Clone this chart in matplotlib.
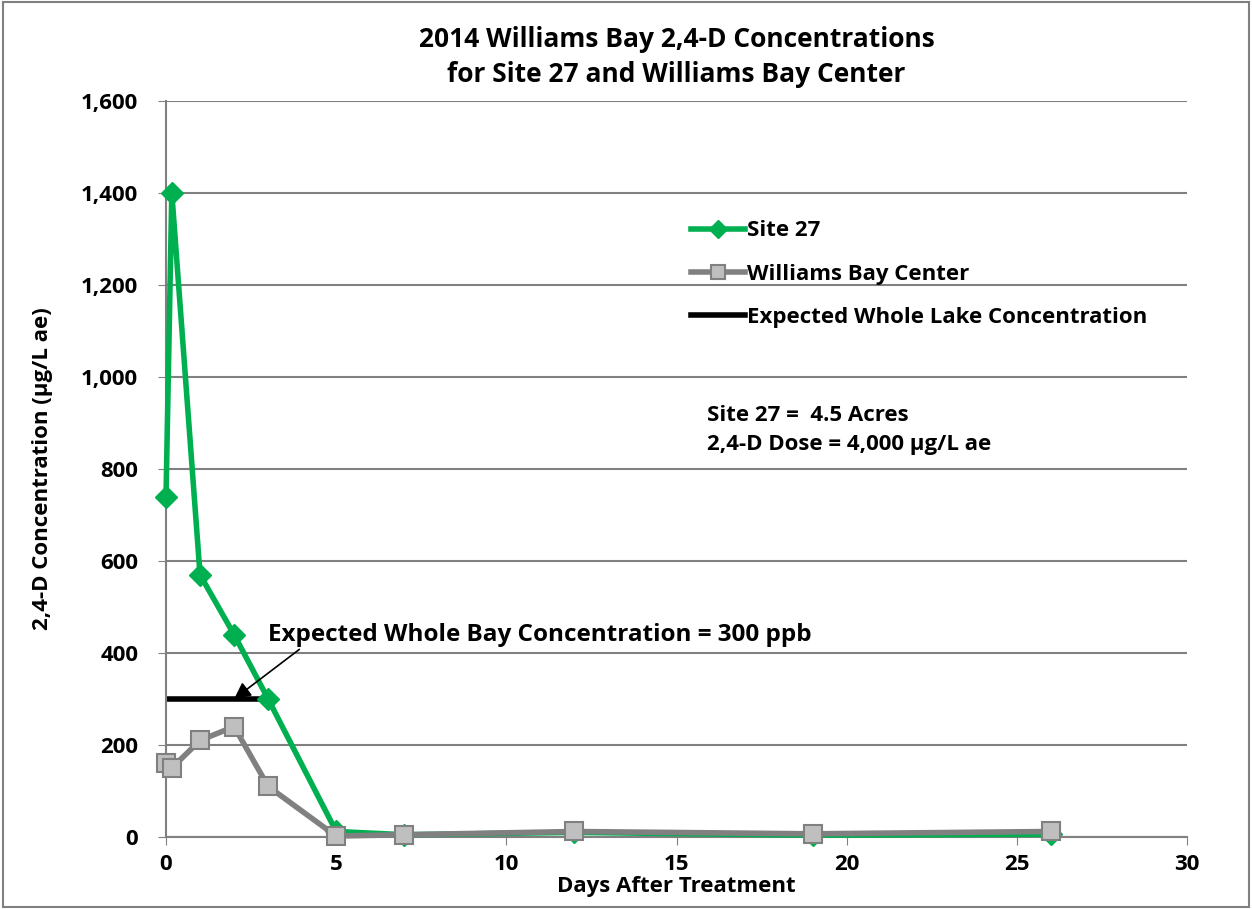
import matplotlib.pyplot as plt

plt.rcParams['font.family'] = ['Open Sans', 'DejaVu Sans']
plt.rcParams['font.weight'] = 'bold'

# data
site27_days = [0, 0.17, 1, 2, 3, 5, 7, 12, 19, 26]
site27_conc = [740, 1400, 570, 440, 300, 12, 5, 10, 4, 6]
center_days = [0, 0.17, 1, 2, 3, 5, 7, 12, 19, 26]
center_conc = [160, 150, 210, 240, 110, 2, 5, 12, 7, 12]
expected_days = [0, 3]
expected_conc = [300, 300]

fig = plt.figure(figsize=(12.52, 9.09), dpi=100)
ax = fig.add_axes([0.1326, 0.0792, 0.8155, 0.8097])

ax.plot(site27_days, site27_conc, color='#00B050', lw=4, marker='D', ms=11,
        mfc='#00B050', mec='#00B050', label='Site 27', zorder=3, clip_on=False)
ax.plot(center_days, center_conc, color='#808080', lw=4, marker='s', ms=13,
        mfc='#BFBFBF', mec='#808080', mew=1.5, label='Williams Bay Center', zorder=4,
        clip_on=False)
ax.plot(expected_days, expected_conc, color='black', lw=4,
        label='Expected Whole Lake Concentration', zorder=2)

ax.set_xlim(0, 30)
ax.set_ylim(0, 1600)
ax.set_xticks(range(0, 31, 5))
ax.set_yticks(range(0, 1601, 200))
ax.set_yticklabels(['{:,}'.format(v) for v in range(0, 1601, 200)])
ax.tick_params(labelsize=16, colors='black', length=6, color='#808080')
ax.tick_params(axis='y', pad=14)
ax.tick_params(axis='x', pad=6)
for lab in ax.get_xticklabels() + ax.get_yticklabels():
    lab.set_fontweight('bold')
ax.grid(axis='y', color='#808080', lw=1.5)
ax.set_axisbelow(True)
for s in ['top', 'right']:
    ax.spines[s].set_visible(False)
for s in ['left', 'bottom']:
    ax.spines[s].set_color('#808080')
    ax.spines[s].set_linewidth(1.5)

ax.set_xlabel('Days After Treatment', fontsize=16, fontweight='bold', labelpad=1)
ax.set_ylabel('2,4-D Concentration (µg/L ae)', fontsize=16, fontweight='bold', labelpad=20)
ax.set_title('2014 Williams Bay 2,4-D Concentrations\nfor Site 27 and Williams Bay Center',
             fontsize=19, fontweight='bold', pad=14, linespacing=1.35)

ax.annotate('Expected Whole Bay Concentration = 300 ppb', xy=(2.0, 300), xytext=(3.0, 440),
            fontsize=17.5, fontweight='bold', va='center',
            arrowprops=dict(arrowstyle='-|>', color='black', lw=1.2, mutation_scale=25,
                            shrinkA=0, shrinkB=0, relpos=(0.07, 0.1)))

ax.text(15.9, 885, 'Site 27 =  4.5 Acres\n2,4-D Dose = 4,000 µg/L ae', fontsize=16,
        fontweight='bold', va='center', linespacing=1.5)

leg = ax.legend(loc='upper left', bbox_to_anchor=(0.495, 0.865), frameon=False, fontsize=16,
                handlelength=2.4, handletextpad=0.1, labelspacing=1.0, markerscale=0.8)
for t in leg.get_texts():
    t.set_fontweight('bold')

fig.patches.append(plt.Rectangle((0.002, 0.002), 0.996, 0.996, transform=fig.transFigure,
                                 fill=False, ec='#808080', lw=1.5))

fig.savefig('out.png', dpi=100)
